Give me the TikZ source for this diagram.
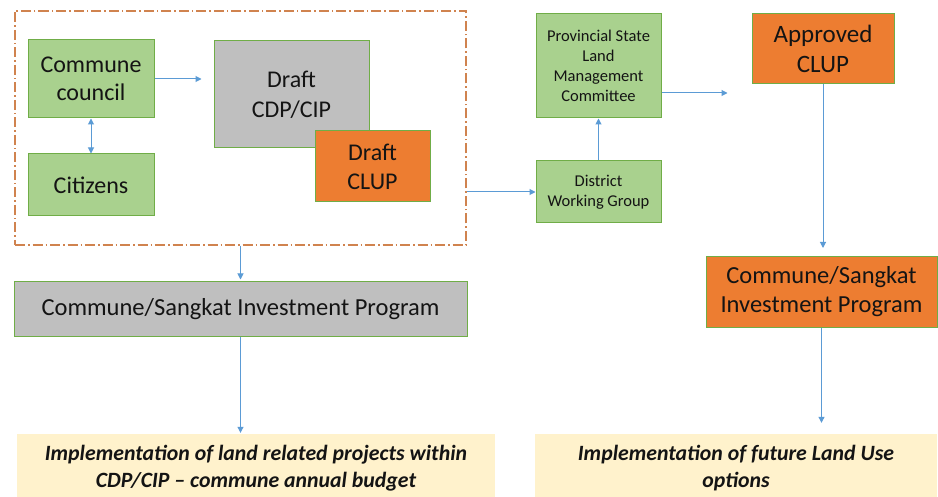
\documentclass[tikz,border=0pt]{standalone}
\usepackage{fontspec}
\setmainfont{Carlito}
\usetikzlibrary{arrows.meta}
\definecolor{gfill}{HTML}{A9D18E}
\definecolor{gline}{HTML}{70AD47}
\definecolor{greyfill}{HTML}{BFBFBF}
\definecolor{ofill}{HTML}{ED7D31}
\definecolor{yfill}{HTML}{FFF2CC}
\definecolor{arr}{HTML}{5B9BD5}
\definecolor{dashc}{HTML}{D0834F}
\definecolor{txt}{HTML}{141414}
\tikzset{
  box/.style={draw=gline, line width=1pt, inner sep=2pt, align=center, text=txt},
  greenbox/.style={box, fill=gfill},
  greybox/.style={box, fill=greyfill},
  orangebox/.style={box, fill=ofill},
  yellowbox/.style={fill=yfill, inner sep=0pt, align=center, text=txt},
  conn/.style={draw=arr, line width=1pt, -{Triangle[width=6pt,length=6pt]}},
  dconn/.style={draw=arr, line width=1pt, {Triangle[width=6pt,length=6pt]}-{Triangle[width=6pt,length=6pt]}},
  grpbox/.style={draw=dashc, line width=1.2pt, dash pattern=on 10pt off 3pt on 1.5pt off 3pt}
}
\begin{document}
\begin{tikzpicture}[x=1pt,y=-1pt]
\useasboundingbox (0,0) rectangle (938,497);
\fill[white] (0,0) rectangle (938,497);
% group box
\node[grpbox, minimum width=451pt, minimum height=234pt, inner sep=0pt] (grp) at (240.5,128) {};
% left group nodes
\node[greenbox, minimum width=126pt, minimum height=78pt, font=\fontsize{24}{28}\selectfont] (cc) at (91,79) {Commune\\council};
\node[greenbox, minimum width=126pt, minimum height=62pt, font=\fontsize{24}{28}\selectfont] (cit) at (91,185) {Citizens};
\node[greybox, minimum width=155pt, minimum height=107pt, font=\fontsize{24}{30}\selectfont] (cdp) at (291.5,94.5) {Draft\\CDP/CIP};
\node[orangebox, minimum width=115pt, minimum height=71pt, font=\fontsize{24}{29}\selectfont] (dclup) at (372.5,166.5) {Draft\\CLUP};
% right nodes
\node[greenbox, minimum width=125pt, minimum height=104pt, font=\fontsize{16.5}{20}\selectfont] (plmc) at (598.5,66) {Provincial State\\Land\\Management\\Committee};
\node[greenbox, minimum width=125pt, minimum height=62pt, font=\fontsize{16.5}{19.5}\selectfont] (dwg) at (598.5,192) {District\\Working Group};
\node[orangebox, minimum width=142pt, minimum height=70pt, font=\fontsize{25}{30}\selectfont] (aclup) at (823,49) {Approved\\CLUP};
% lower nodes
\node[greybox, minimum width=453pt, minimum height=55pt, font=\fontsize{24.5}{28}\selectfont] (csip) at (240.5,309.5) {Commune/Sangkat Investment Program};
\node[orangebox, minimum width=231pt, minimum height=71pt, font=\fontsize{24.5}{29}\selectfont] (ocsip) at (821.5,292) {Commune/Sangkat\\Investment Program};
\node[yellowbox, minimum width=478pt, minimum height=69pt, font=\fontsize{21.8}{27}\selectfont\bfseries\itshape] (impl1) at (256,468.5) {Implementation of land related projects within\\CDP/CIP -- commune annual budget};
\node[yellowbox, minimum width=402pt, minimum height=69pt, font=\fontsize{21.8}{27}\selectfont\bfseries\itshape] (impl2) at (736,468.5) {Implementation of future Land Use\\options};
% connectors
\draw[conn, shorten >=12pt] (cc.east) -- (cc.east -| cdp.west);
\draw[dconn] (cc.south) -- (cit.north);
\draw[conn] (grp.east |- dwg.west) -- (dwg.west);
\draw[conn] (dwg.north) -- (plmc.south);
\draw[conn, shorten >=24pt] ([yshift=-27pt]plmc.east) -- ([yshift=-27pt]plmc.east -| aclup.west);
\draw[conn, shorten >=8pt] (aclup.south) -- (aclup.south |- ocsip.north);
\draw[conn, shorten >=2pt] (grp.south) -- (csip.north);
\draw[conn, shorten >=1pt] (csip.south) -- (csip.south |- impl1.north);
\draw[conn, shorten >=11pt] (ocsip.south) -- (ocsip.south |- impl2.north);
\end{tikzpicture}
\end{document}
